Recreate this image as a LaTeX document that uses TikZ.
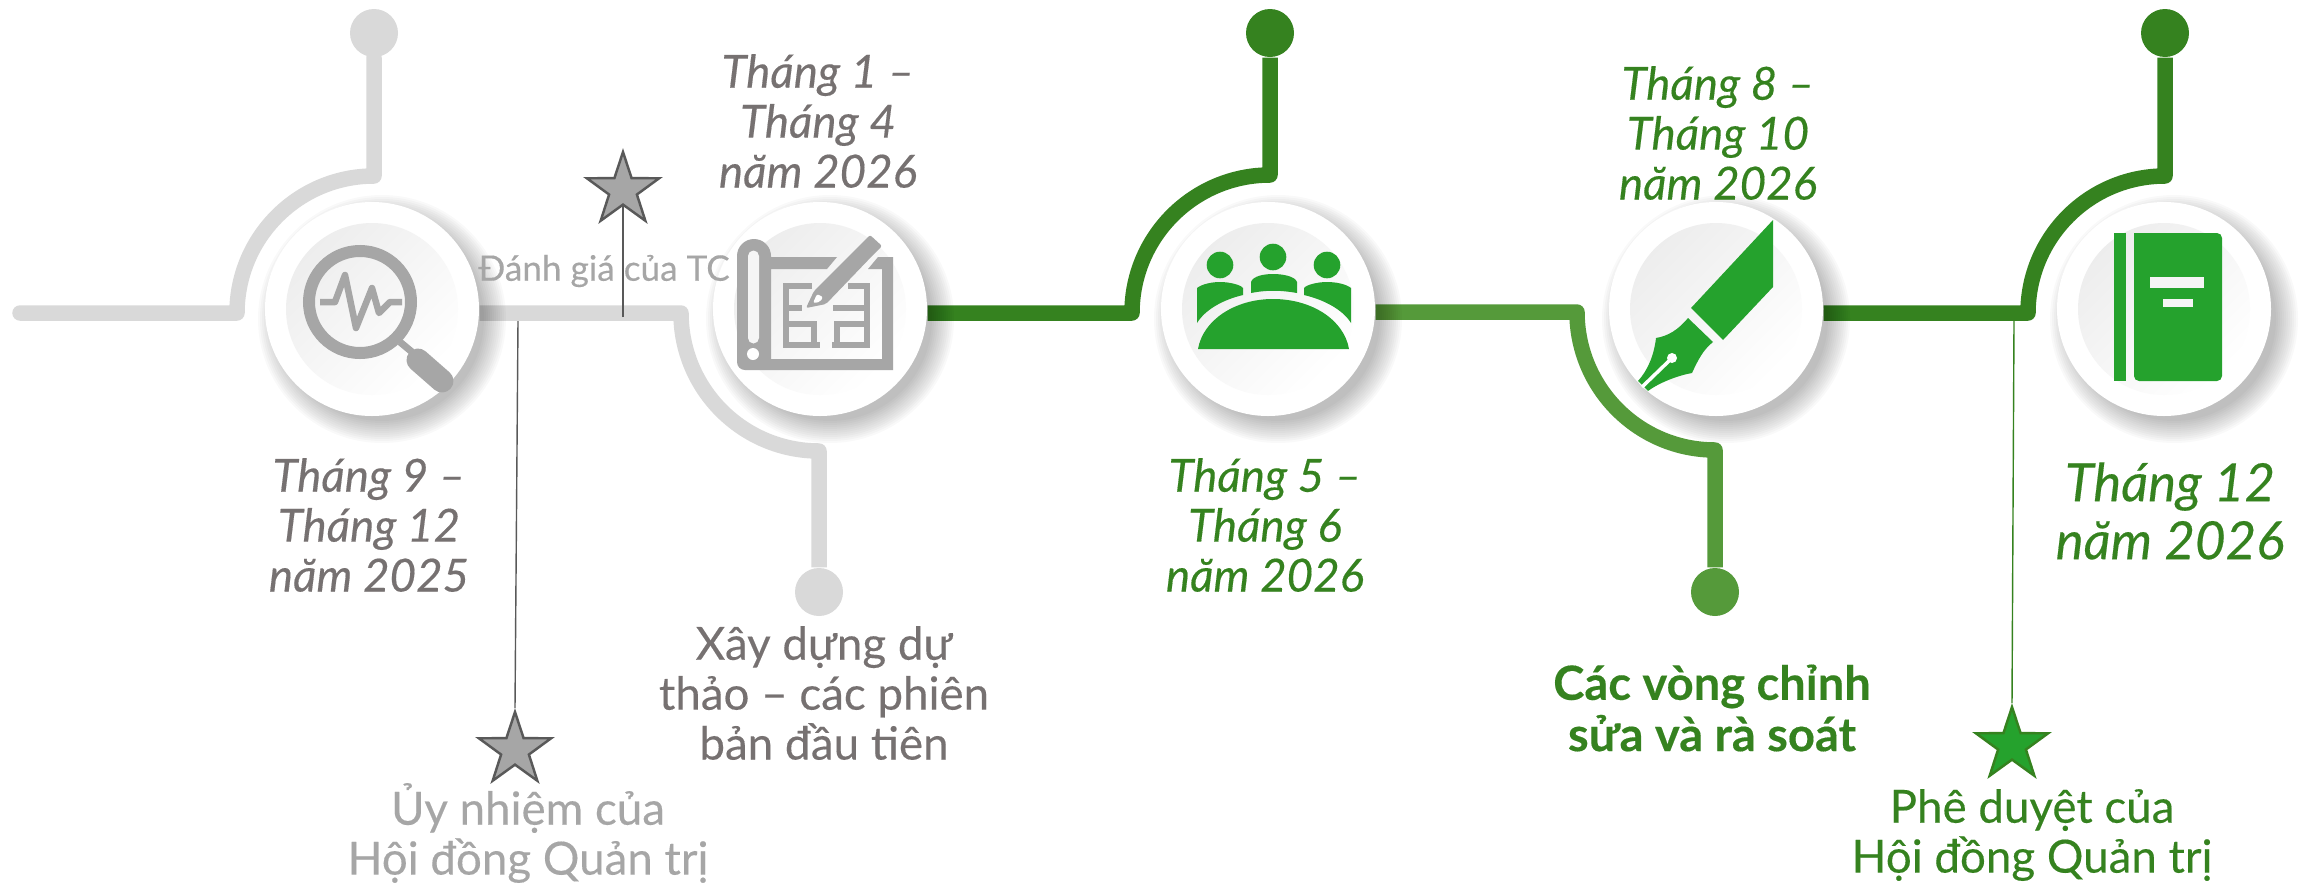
\documentclass[tikz,border=0pt]{standalone}
\usepackage{fontspec}
\setmainfont{Lato}[FakeBold=0.3]
\usetikzlibrary{shapes.geometric,backgrounds}
\definecolor{linegrey}{HTML}{D9D9D9}
\definecolor{icongrey}{HTML}{A6A6A6}
\definecolor{textgrey}{HTML}{767171}
\definecolor{stargrey}{HTML}{595959}
\definecolor{darkgreen}{HTML}{35821F}
\definecolor{midgreen}{HTML}{559A3A}
\definecolor{icongreen}{HTML}{25A22D}
\tikzset{
	disc/.style={circle,fill=white,minimum size=2.14cm,inner sep=0pt},
	ball/.style={circle,minimum size=.48cm,inner sep=0pt},
	road/.style={line width=.155cm,line join=round},
	pin/.style={line width=.4pt},
	mark5/.style={star,star points=5,star point ratio=2.6,minimum size=.76cm,inner sep=0pt,line width=.7pt},
	datetext/.style={align=center,font=\fontsize{13}{14.2}\selectfont\itshape},
	labeltext/.style={align=center,font=\fontsize{13}{14.2}\selectfont},
}
\begin{document}
\begin{tikzpicture}
	\useasboundingbox (0,0) rectangle (23.06,-8.83);

	% discs along the road
	\node[disc] (scan) at (3.72,-3.09) {};
	\node[disc] (plan) at (8.20,-3.09) {};
	\node[disc] (meet) at (12.68,-3.09) {};
	\node[disc] (pen) at (17.16,-3.09) {};
	\node[disc] (book) at (21.64,-3.09) {};
	\foreach \n in {scan,plan,meet,pen,book}
		\shade[top color=black!7,bottom color=white,shading angle=45] (\n) circle (.86);

	% end balls
	\node[ball,fill=linegrey] (b1) at (3.74,-.33) {};
	\node[ball,fill=linegrey] (b2) at (8.19,-5.92) {};
	\node[ball,fill=darkgreen] (b3) at (12.70,-.33) {};
	\node[ball,fill=midgreen] (b4) at (17.15,-5.92) {};
	\node[ball,fill=darkgreen] (b5) at (21.65,-.33) {};

	\coordinate (start) at (.20,-3.13);
	\coordinate (j1) at (2.37,-3.13);
	\coordinate (j2) at (6.81,-3.13);
	\coordinate (j3) at (11.32,-3.13);
	\coordinate (j4) at (15.77,-3.12);
	\coordinate (j5) at (20.28,-3.13);

	\begin{scope}[on background layer]
		\draw[road,linegrey,line cap=round] (start) -- (j1) arc[start angle=180,end angle=90,radius=1.37] -- (b1);
		\draw[road,linegrey] (scan.east |- j2) -- (j2) arc[start angle=180,end angle=270,radius=1.38] -- (b2);
		\draw[road,darkgreen] (plan.east |- j3) -- (j3) arc[start angle=180,end angle=90,radius=1.38] -- (b3);
		\draw[road,midgreen] (meet.east |- j4) -- (j4) arc[start angle=180,end angle=270,radius=1.38] -- (b4);
		\draw[road,darkgreen] (pen.east |- j5) -- (j5) arc[start angle=180,end angle=90,radius=1.37] -- (b5);
		% soft shadow of the discs
		\foreach \n in {scan,plan,meet,pen,book}
			\foreach \r in {1.02,1.04,...,1.24}
				\fill[black,opacity=.025,shift={(\n)}] (.10,-.10) circle (\r);
	\end{scope}

	% magnifier
	\draw[icongrey,line width=.12cm] (3.60,-3.02) circle (.51);
	\draw[icongrey,line width=.07cm] (4.00,-3.42) -- (4.12,-3.52);
	\draw[icongrey,line width=.23cm,line cap=round] (4.18,-3.60) -- (4.42,-3.81);
	\draw[icongrey,line width=.065cm,line join=round] (3.20,-3.02) -- (3.35,-3.02) -- (3.45,-2.75) -- (3.56,-3.28) -- (3.72,-2.88) -- (3.79,-3.13) -- (3.90,-3.02) -- (4.02,-3.02);

	% blueprint
	\fill[icongrey] (7.37,-3.62) -- (7.37,-2.56) arc[start angle=180,end angle=0,radius=.17] -- (7.71,-2.57)
		-- (8.37,-2.57) -- (8.27,-2.69) -- (7.71,-2.69) -- (7.71,-3.59) -- (8.82,-3.59) -- (8.82,-2.69) -- (8.68,-2.69)
		-- (8.78,-2.57) -- (8.93,-2.57) -- (8.93,-3.70) -- (7.45,-3.70) arc[start angle=270,end angle=180,radius=.08] -- cycle;
	\fill[white!96!black] (7.48,-3.38) -- (7.48,-2.56) arc[start angle=180,end angle=0,radius=.055] -- (7.59,-3.38) arc[start angle=0,end angle=-180,radius=.055] -- cycle;
	\fill[white] (7.53,-3.54) circle (.06);
	\draw[icongrey,line width=.06cm] (8.12,-2.86) -- (7.86,-2.86) -- (7.86,-3.45) -- (8.20,-3.45);
	\draw[icongrey,line width=.06cm] (7.86,-3.08) -- (8.02,-3.08);
	\draw[icongrey,line width=.06cm] (7.86,-3.24) -- (8.14,-3.24) -- (8.14,-3.45);
	\draw[icongrey,line width=.06cm] (8.48,-2.86) -- (8.67,-2.86) -- (8.67,-3.45) -- (8.32,-3.45);
	\draw[icongrey,line width=.06cm] (8.33,-3.08) -- (8.67,-3.08);
	\draw[icongrey,line width=.06cm] (8.67,-3.24) -- (8.37,-3.24) -- (8.37,-3.45);
	\fill[icongrey,rounded corners=.02cm] (8.06,-3.08) -- (8.14,-2.91) -- (8.62,-2.43) -- (8.70,-2.35) -- (8.82,-2.46) -- (8.73,-2.55) -- (8.26,-3.04) -- cycle;
	\fill[white,rounded corners=.02cm] (8.13,-3.03) -- (8.17,-2.94) -- (8.23,-2.97) -- (8.20,-3.02) -- cycle;

	% people round a table
	\fill[icongreen] (12.20,-2.65) circle (.133) (12.73,-2.57) circle (.133) (13.27,-2.65) circle (.133);
	\fill[icongreen] (12.51,-2.93) -- (12.51,-2.82) .. controls (12.53,-2.76) and (12.64,-2.74) .. (12.73,-2.74) .. controls (12.82,-2.74) and (12.95,-2.76) .. (12.97,-2.82) -- (12.97,-2.93) .. controls (12.80,-2.90) and (12.66,-2.90) .. cycle;
	\fill[icongreen] (11.97,-3.23) -- (11.97,-2.88) .. controls (12.02,-2.84) and (12.12,-2.82) .. (12.20,-2.82) .. controls (12.30,-2.82) and (12.41,-2.85) .. (12.43,-2.88) -- (12.43,-2.95) .. controls (12.22,-3.00) and (12.05,-3.10) .. cycle;
	\fill[icongreen] (13.51,-3.23) -- (13.51,-2.88) .. controls (13.46,-2.84) and (13.36,-2.82) .. (13.27,-2.82) .. controls (13.17,-2.82) and (13.06,-2.85) .. (13.04,-2.88) -- (13.04,-2.95) .. controls (13.25,-3.00) and (13.43,-3.10) .. cycle;
	\fill[icongreen] (11.98,-3.49) .. controls (12.03,-3.20) and (12.35,-2.99) .. (12.73,-2.99) .. controls (13.12,-2.99) and (13.44,-3.20) .. (13.49,-3.49) -- cycle;

	% fountain pen
	\fill[icongreen] (17.73,-2.20) -- (17.73,-2.87) -- (17.23,-3.40) -- (16.91,-3.08) -- cycle;
	\fill[icongreen] (16.88,-3.18) -- (17.13,-3.42) .. controls (17.03,-3.50) and (16.98,-3.60) .. (16.92,-3.73) .. controls (16.80,-3.75) and (16.60,-3.82) .. (16.48,-3.91) -- (16.38,-3.81) .. controls (16.48,-3.70) and (16.54,-3.55) .. (16.56,-3.38) .. controls (16.68,-3.36) and (16.78,-3.30) .. cycle;
	\draw[white,line width=.035cm] (16.42,-3.87) -- (16.72,-3.58);
	\fill[white] (16.72,-3.58) circle (.05);

	% notebook
	\fill[icongreen] (21.14,-2.33) rectangle (21.26,-3.81);
	\fill[icongreen,rounded corners=.05cm] (21.34,-2.33) -- (22.22,-2.33) -- (22.22,-3.81) -- (21.34,-3.81) [sharp corners] -- cycle;
	\fill[white!96!black] (21.50,-2.77) rectangle (22.04,-2.88);
	\fill[white!96!black] (21.63,-2.99) rectangle (21.93,-3.07);

	% thin lines and stars
	\node[mark5,draw=stargrey,fill=icongrey] (s1) at (5.15,-7.50) {};
	\node[mark5,draw=stargrey,fill=icongrey] (s2) at (6.23,-1.90) {};
	\node[mark5,draw=darkgreen,fill=icongreen] (s3) at (20.12,-7.45) {};
	\coordinate (t1) at (5.18,-3.21);
	\coordinate (t2) at (6.23,-3.17);
	\coordinate (t3) at (20.14,-3.21);
	\draw[pin,stargrey] (t1) -- (s1.north);
	\draw[pin,stargrey] (t2) -- (s2.south);
	\draw[pin,darkgreen] (t3) -- (s3.north);

	% dates
	\node[datetext,textgrey] (d1) at (3.69,-5.25) {Tháng 9 –\\Tháng 12\\năm 2025};
	\node[datetext,textgrey] (d2) at (8.18,-1.21) {Tháng 1 –\\Tháng 4\\năm 2026};
	\node[datetext,darkgreen] (d3) at (12.65,-5.25) {Tháng 5 –\\Tháng 6\\năm 2026};
	\node[datetext,darkgreen] (d4) at (17.18,-1.33) {Tháng 8 –\\Tháng 10\\năm 2026};
	\node[datetext,darkgreen,font=\fontsize{15}{16.5}\selectfont\itshape] (d5) at (21.70,-5.11) {Tháng 12\\năm 2026};

	% labels
	\node[labeltext,icongrey,font=\fontsize{10}{11}\selectfont] (l1) at (6.04,-2.71) {Đánh giá của TC};
	\node[labeltext,textgrey] (l2) at (8.24,-6.93) {Xây dựng dự\\thảo – các phiên\\bản đầu tiên};
	\node[labeltext,icongrey] (l3) at (5.28,-8.33) {Ủy nhiệm của\\Hội đồng Quản trị};
	\node[labeltext,darkgreen,font=\fontsize{13.4}{14.6}\selectfont\bfseries] (l4) at (17.12,-7.08) {Các vòng chỉnh\\sửa và rà soát};
	\node[labeltext,darkgreen] (l5) at (20.32,-8.35) {Phê duyệt của\\Hội đồng Quản trị};
\end{tikzpicture}
\end{document}
